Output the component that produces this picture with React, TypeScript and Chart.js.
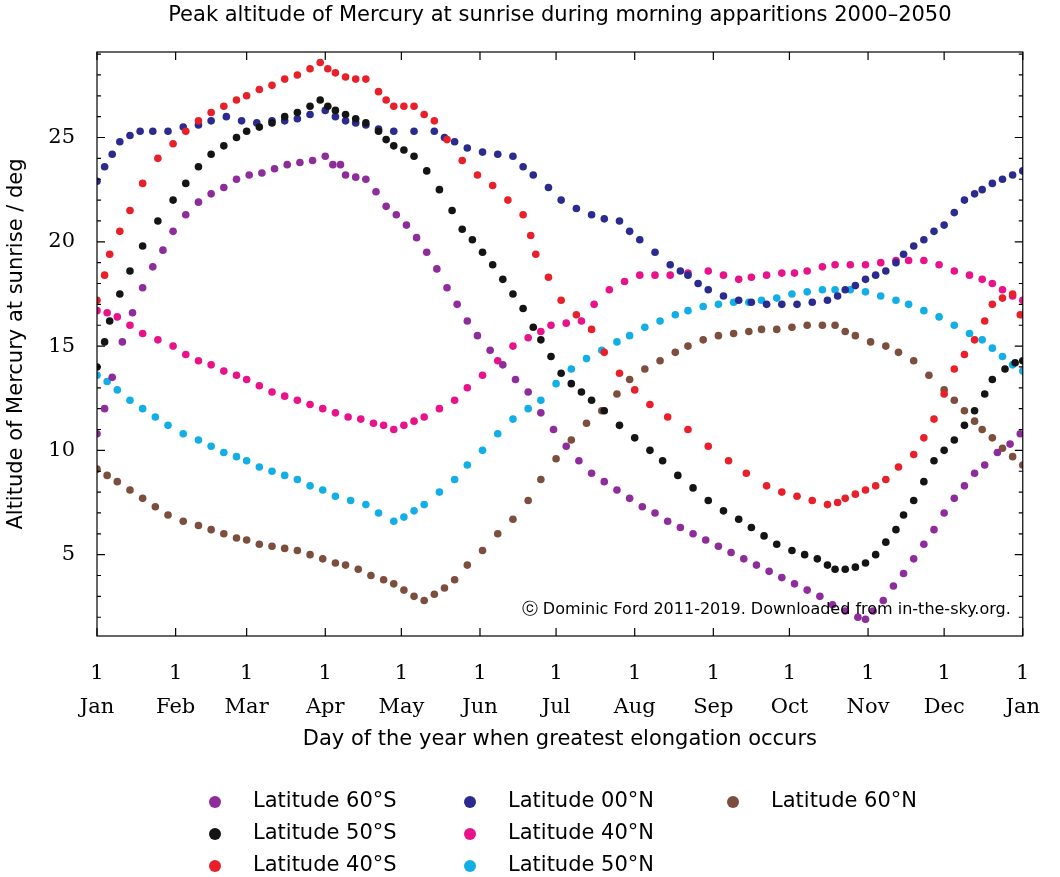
import React, { useEffect, useRef } from "react";
import { Chart, registerables } from "chart.js";
Chart.register(...registerables);

const monthDays = [0, 31, 59, 90, 120, 151, 181, 212, 243, 273, 304, 334, 365];
const monthNames = ["Jan", "Feb", "Mar", "Apr", "May", "Jun", "Jul", "Aug", "Sep", "Oct", "Nov", "Dec", "Jan"];
const yTicks = [5, 10, 15, 20, 25];

const lat60S = [[0,10.8],[3,12],[6,13.5],[10,15.2],[14,16.6],[18,17.8],[22,18.8],[26,19.6],[30,20.5],[35,21.3],[40,21.9],[45,22.3],[50,22.6],[55,23],[60,23.2],[65,23.3],[70,23.5],[75,23.7],[80,23.8],[85,23.9],[90,24.1],[93,23.7],[96,23.7],[98,23.2],[102,23.1],[106,23.0],[110,22.4],[114,21.7],[118,21.3],[122,20.8],[126,20.2],[130,19.5],[134,18.7],[138,17.8],[142,17.0],[146,16.2],[150,15.5],[155,14.8],[160,14.1],[165,13.4],[170,12.8],[175,11.8],[180,11.0],[185,10.2],[190,9.5],[195,8.9],[200,8.5],[205,8.1],[210,7.7],[215,7.3],[220,7.0],[225,6.6],[230,6.3],[235,6.0],[240,5.7],[245,5.4],[250,5.1],[255,4.8],[260,4.5],[265,4.2],[270,3.9],[275,3.6],[280,3.3],[285,3.0],[290,2.6],[295,2.3],[300,2.0],[303,1.9],[306,2.3],[310,2.8],[314,3.5],[318,4.1],[322,4.8],[326,5.5],[330,6.2],[334,7.0],[338,7.7],[342,8.3],[346,8.9],[350,9.3],[355,9.9],[360,10.3],[364,10.8]];
const lat50S = [[0,14],[3,15.2],[5,16.2],[9,17.5],[13,18.6],[18,19.8],[24,21],[30,22],[35,22.8],[40,23.6],[45,24.2],[50,24.6],[55,25],[59,25.3],[64,25.5],[69,25.7],[74,26],[79,26.2],[84,26.5],[88,26.8],[91,26.5],[94,26.3],[98,26.1],[102,25.9],[106,25.7],[111,25.3],[114,24.9],[117,24.6],[121,24.4],[125,24.1],[130,23.4],[135,22.5],[140,21.5],[144,20.6],[148,20.1],[152,19.5],[156,18.9],[160,18.2],[164,17.5],[168,16.8],[172,15.9],[175,15.3],[179,14.5],[183,13.7],[187,13.2],[191,12.8],[195,12.4],[200,11.9],[206,11.2],[212,10.6],[218,10],[223,9.5],[229,8.8],[235,8.2],[241,7.6],[247,7.1],[253,6.7],[258,6.3],[263,5.9],[268,5.5],[274,5.2],[279,5],[284,4.8],[288,4.5],[291,4.3],[295,4.3],[299,4.4],[303,4.6],[307,5],[311,5.6],[315,6.2],[318,6.9],[322,7.6],[326,8.5],[330,9.5],[334,10],[338,10.5],[342,11.2],[346,11.9],[350,12.7],[353,13.4],[358,13.9],[362,14.2],[365,14.3]];
const lat40S = [[0,17.2],[3,18.4],[5,19.4],[9,20.5],[13,21.5],[18,22.8],[24,24],[30,24.7],[35,25.3],[40,25.8],[45,26.2],[50,26.5],[55,26.8],[59,27],[64,27.3],[69,27.5],[74,27.8],[79,28],[84,28.3],[88,28.6],[91,28.3],[94,28.1],[98,27.9],[102,27.8],[106,27.8],[111,27.2],[114,26.8],[117,26.5],[121,26.5],[125,26.5],[129,26.1],[133,25.8],[138,24.9],[144,23.9],[150,23.2],[156,22.7],[162,22],[168,21.3],[171,20.3],[173,19.4],[178,18.3],[183,17.2],[189,16.5],[195,15.8],[200,14.7],[206,13.7],[212,12.9],[218,12.2],[225,11.6],[233,11],[241,10.2],[249,9.5],[256,8.9],[264,8.3],[270,8],[276,7.8],[282,7.6],[288,7.4],[292,7.5],[295,7.7],[299,7.9],[303,8.1],[307,8.3],[311,8.6],[316,9.2],[322,9.8],[326,10.6],[330,11.5],[334,12.7],[338,13.9],[342,14.6],[346,15.3],[350,16.2],[353,17],[357,17.3],[361,17.5],[364,16.5]];
const lat00N = [[0,22.9],[3,23.6],[6,24.2],[9,24.8],[13,25.1],[17,25.3],[22,25.3],[28,25.3],[34,25.5],[40,25.6],[45,25.8],[51,26],[57,25.8],[63,25.7],[69,25.8],[74,25.8],[79,25.9],[84,26.1],[90,26.3],[94,26],[98,25.8],[102,25.7],[106,25.6],[111,25.4],[117,25.3],[125,25.3],[133,25.3],[137,25],[141,24.8],[146,24.5],[152,24.3],[158,24.2],[164,24.1],[168,23.6],[172,23.2],[178,22.6],[183,22],[189,21.6],[195,21.3],[200,21.1],[206,21],[210,20.5],[214,20.1],[220,19.5],[226,18.9],[230,18.6],[233,18.4],[237,18],[241,17.7],[247,17.4],[253,17.2],[258,17.1],[264,17],[270,17],[276,17],[282,17.1],[288,17.2],[292,17.4],[295,17.7],[299,17.9],[303,18.2],[307,18.4],[311,18.6],[315,19],[318,19.4],[322,19.8],[326,20.1],[330,20.5],[334,20.8],[338,21.4],[342,22],[346,22.3],[349,22.5],[353,22.8],[357,23],[361,23.2],[365,23.4]];
const lat40N = [[0,16.7],[4,16.6],[8,16.4],[13,16],[18,15.6],[24,15.3],[30,15],[35,14.6],[40,14.3],[45,14.1],[50,13.8],[55,13.6],[59,13.4],[64,13.1],[69,12.8],[74,12.6],[79,12.4],[84,12.2],[89,12],[94,11.8],[99,11.6],[104,11.5],[109,11.3],[113,11.2],[117,11],[121,11.2],[125,11.4],[129,11.6],[135,12],[141,12.4],[146,13],[152,13.6],[158,14.3],[164,15],[170,15.4],[175,15.7],[179,16],[185,16.1],[191,16.2],[196,17],[202,17.7],[208,18.1],[214,18.4],[220,18.4],[226,18.4],[233,18.5],[241,18.6],[247,18.4],[253,18.2],[258,18.3],[264,18.4],[270,18.5],[275,18.5],[280,18.6],[286,18.8],[291,18.9],[297,18.9],[303,18.9],[309,19],[315,19.1],[320,19.1],[326,19.1],[332,18.9],[338,18.6],[344,18.4],[349,18.2],[353,18],[357,17.7],[361,17.4],[365,17.2]];
const lat50N = [[0,13.6],[4,13.3],[8,12.9],[13,12.4],[18,12],[23,11.6],[28,11.2],[34,10.8],[40,10.5],[45,10.2],[50,9.9],[55,9.7],[59,9.5],[64,9.2],[69,9],[74,8.8],[79,8.6],[84,8.3],[89,8.1],[94,7.8],[100,7.6],[106,7.4],[111,7],[117,6.6],[121,6.8],[125,7.1],[129,7.4],[135,8],[141,8.6],[146,9.3],[152,10],[158,10.8],[164,11.5],[170,12],[175,12.4],[181,13.2],[187,13.9],[193,14.4],[199,14.8],[205,15.2],[210,15.5],[216,15.9],[222,16.2],[228,16.5],[233,16.7],[239,16.9],[245,17],[251,17.1],[257,17.1],[262,17.2],[268,17.3],[274,17.5],[280,17.6],[286,17.7],[291,17.7],[297,17.7],[303,17.6],[309,17.4],[315,17.2],[320,17],[326,16.7],[332,16.4],[338,16],[344,15.6],[349,15.3],[353,14.9],[357,14.5],[361,14.1],[365,13.8]];
const lat60N = [[0,9.1],[4,8.8],[8,8.5],[13,8.1],[18,7.7],[23,7.3],[28,6.9],[34,6.6],[40,6.4],[45,6.2],[50,6],[55,5.8],[59,5.7],[64,5.5],[69,5.4],[74,5.3],[79,5.2],[84,5],[89,4.8],[94,4.6],[98,4.5],[103,4.3],[108,4],[113,3.8],[117,3.6],[121,3.3],[125,3],[129,2.8],[133,3.1],[137,3.4],[141,3.8],[146,4.5],[152,5.2],[158,6],[164,6.7],[170,7.6],[175,8.6],[181,9.6],[187,10.5],[193,11.3],[199,11.9],[205,12.7],[210,13.4],[216,13.9],[222,14.3],[228,14.7],[233,15],[239,15.3],[245,15.5],[251,15.6],[257,15.7],[262,15.8],[268,15.8],[274,15.9],[280,16],[286,16],[291,16],[295,15.7],[299,15.5],[305,15.2],[311,15],[316,14.7],[322,14.3],[328,13.6],[334,12.9],[338,12.4],[342,11.9],[346,11.4],[349,11],[353,10.6],[357,10.1],[361,9.7],[365,9.3]];

const seriesNames = ["Latitude 60°S", "Latitude 50°S", "Latitude 40°S", "Latitude 00°N", "Latitude 40°N", "Latitude 50°N", "Latitude 60°N"];
const seriesData = [lat60S, lat50S, lat40S, lat00N, lat40N, lat50N, lat60N];
const seriesColors = ["#8e2c9c", "#141414", "#e8202a", "#2b2b8f", "#e8128a", "#12aee6", "#7b4e3e"];

const SANS = "'DejaVu Sans', sans-serif";
const SERIF = "'DejaVu Serif', 'Liberation Serif', serif";

export default function App() {
  const ref = useRef<HTMLCanvasElement>(null);
  useEffect(() => {
    document.body.style.margin = "0";
    const deco = {
      id: "deco",
      afterDraw(chart: any) {
        const ctx = chart.ctx;
        const { left, right, top, bottom } = chart.chartArea;
        const xs = chart.scales.x, ys = chart.scales.y;
        ctx.save();
        ctx.strokeStyle = "#000";
        ctx.lineWidth = 1.2;
        ctx.strokeRect(left, top, right - left, bottom - top);
        ctx.beginPath();
        for (let v = 2; v <= 29; v++) {
          const y = ys.getPixelForValue(v);
          const l = v % 5 === 0 ? 8 : 4;
          ctx.moveTo(left, y); ctx.lineTo(left + l, y);
          ctx.moveTo(right, y); ctx.lineTo(right - l, y);
        }
        monthDays.forEach((d) => {
          const x = xs.getPixelForValue(d);
          ctx.moveTo(x, bottom); ctx.lineTo(x, bottom - 8);
          ctx.moveTo(x, top); ctx.lineTo(x, top + 8);
        });
        ctx.stroke();
        ctx.fillStyle = "#000";
        ctx.font = `21px ${SANS}`;
        ctx.textAlign = "center";
        ctx.textBaseline = "middle";
        ctx.fillText("Peak altitude of Mercury at sunrise during morning apparitions 2000–2050", (left + right) / 2, 16);
        ctx.font = `16px ${SANS}`;
        ctx.textAlign = "right";
        ctx.fillText("ⓒ Dominic Ford 2011-2019. Downloaded from in-the-sky.org.", right - 12, bottom - 26);
        const cols = [215, 470, 733];
        const rows = [802, 834, 866];
        ctx.font = `21px ${SANS}`;
        ctx.textAlign = "left";
        seriesNames.forEach((n, i) => {
          const c = Math.floor(i / 3), r = i % 3;
          ctx.fillStyle = seriesColors[i];
          ctx.beginPath();
          ctx.arc(cols[c], rows[r], 6, 0, Math.PI * 2);
          ctx.fill();
          ctx.fillStyle = "#000";
          ctx.fillText(n, cols[c] + 38, rows[r]);
        });
        ctx.restore();
      },
    };
    const chart = new Chart(ref.current!, {
      type: "scatter",
      data: {
        datasets: seriesData.map((d, i) => ({
          label: seriesNames[i],
          data: d.map(([x, y]) => ({ x, y })),
          backgroundColor: seriesColors[i],
          borderColor: seriesColors[i],
          pointRadius: 3.8,
          pointBorderWidth: 0,
        })),
      },
      options: {
        animation: false,
        responsive: false,
        layout: { padding: { top: 52, right: 8, left: 0, bottom: 121 } },
        plugins: { legend: { display: false }, tooltip: { enabled: false } },
        scales: {
          x: {
            type: "linear", min: 0, max: 365,
            afterBuildTicks: (s: any) => { s.ticks = monthDays.map((v) => ({ value: v })); },
            afterFit: (s: any) => { s.height = 120; },
            grid: { display: false, drawTicks: false },
            border: { display: false },
            ticks: {
              color: "#000", padding: 20, maxRotation: 0, autoSkip: false,
              font: { family: SERIF, size: 21, lineHeight: 1.65 },
              callback: (v: any) => { const i = monthDays.indexOf(Number(v)); return ["1", monthNames[i]]; },
            },
            title: { display: true, text: "Day of the year when greatest elongation occurs", color: "#000", font: { family: SANS, size: 21 }, padding: { top: 26 } },
          },
          y: {
            min: 1.1, max: 29.1,
            afterBuildTicks: (s: any) => { s.ticks = yTicks.map((v) => ({ value: v })); },
            afterFit: (s: any) => { s.width = 97; },
            grid: { display: false, drawTicks: false },
            border: { display: false },
            ticks: { color: "#000", padding: 22, font: { family: SERIF, size: 21 } },
            title: { display: true, text: "Altitude of Mercury at sunrise / deg", color: "#000", font: { family: SANS, size: 21 }, padding: { bottom: 4 } },
          },
        },
      },
      plugins: [deco],
    });
    return () => chart.destroy();
  }, []);
  return <canvas ref={ref} width={1060} height={877} style={{ display: "block" }} />;
}
